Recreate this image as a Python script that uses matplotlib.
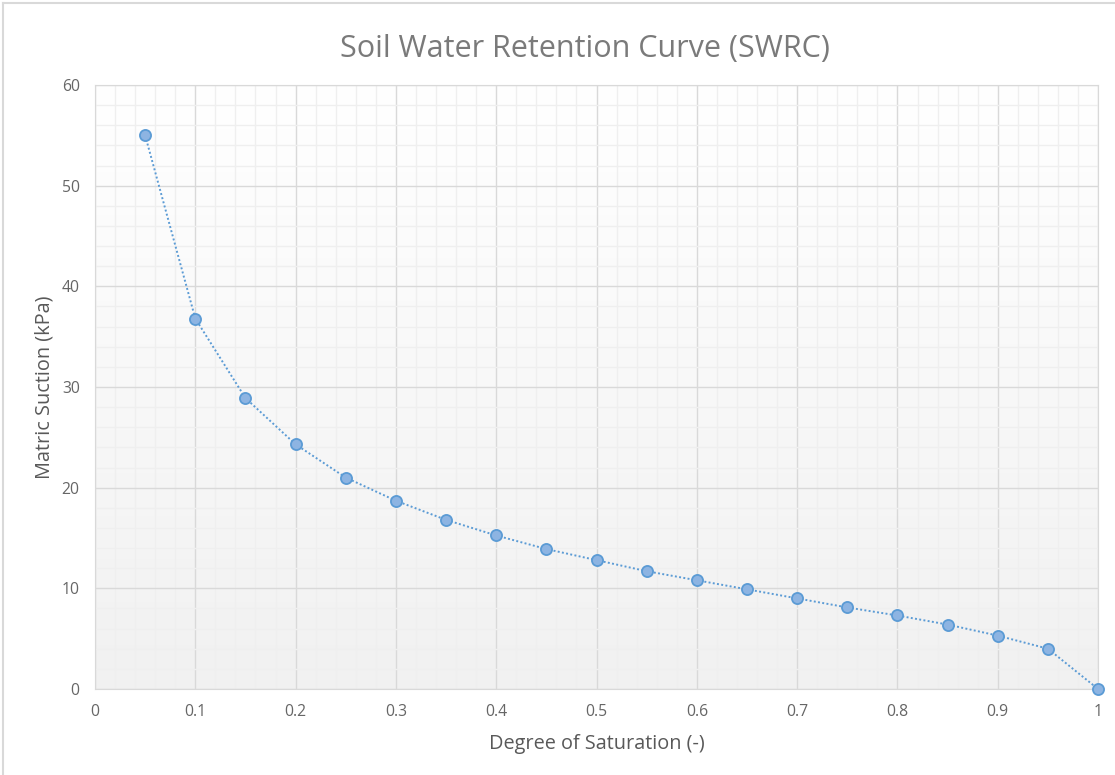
import matplotlib.pyplot as plt
from matplotlib.lines import Line2D
from matplotlib.ticker import MultipleLocator
import numpy as np

# degree of saturation vs matric suction (kPa)
saturation = [0.05, 0.10, 0.15, 0.20, 0.25, 0.30, 0.35, 0.40, 0.45, 0.50,
              0.55, 0.60, 0.65, 0.70, 0.75, 0.80, 0.85, 0.90, 0.95, 1.00]
suction = [55.0, 36.8, 28.9, 24.3, 21.0, 18.7, 16.8, 15.25, 13.9, 12.8,
           11.7, 10.8, 9.9, 9.0, 8.1, 7.3, 6.4, 5.3, 4.0, 0.0]

title = "Soil Water Retention Curve (SWRC)"
xlabel = "Degree of Saturation (-)"
ylabel = "Matric Suction (kPa)"
x_ticks = [0, 0.1, 0.2, 0.3, 0.4, 0.5, 0.6, 0.7, 0.8, 0.9, 1]
x_ticklabels = ["0", "0.1", "0.2", "0.3", "0.4", "0.5", "0.6", "0.7", "0.8", "0.9", "1"]
y_ticks = [0, 10, 20, 30, 40, 50, 60]

plt.rcParams['font.family'] = ['Open Sans', 'DejaVu Sans']
txt = '#595959'

fig = plt.figure(figsize=(11.15, 7.75), dpi=100)
ax = fig.add_axes([0.0852, 0.111, 0.8996, 0.7793])

# soft vertical gradient like the Excel plot area
grad = np.linspace(1.0, 0.0, 256).reshape(-1, 1)
ax.imshow(grad, extent=[0, 1, 0, 1], transform=ax.transAxes, aspect='auto',
          cmap=plt.matplotlib.colors.LinearSegmentedColormap.from_list('g', ['#f1f1f1', '#ffffff']),
          zorder=0, interpolation='bicubic')

ax.set_xlim(0, 1)
ax.set_ylim(0, 60)
ax.set_xticks(x_ticks)
ax.set_xticklabels(x_ticklabels)
ax.set_yticks(y_ticks)
ax.xaxis.set_minor_locator(MultipleLocator(0.02))
ax.yaxis.set_minor_locator(MultipleLocator(2))
ax.grid(which='major', color='#d9d9d9', linewidth=1.0, zorder=1)
ax.grid(which='minor', color='#efefef', linewidth=1.0, zorder=1)
ax.set_axisbelow(True)
ax.tick_params(which='both', length=0, colors='#666666', labelsize=11.3)
ax.tick_params(axis='x', pad=11)
ax.tick_params(axis='y', pad=11)
for s in ax.spines.values():
    s.set_color('#d9d9d9')

ax.plot(saturation, suction, linestyle=(0, (1, 1.2)), color='#5b9bd5', linewidth=1.4,
        marker='o', markersize=8, markerfacecolor='#8db4e2', markeredgecolor='#5b9bd5',
        markeredgewidth=1.3, zorder=3, clip_on=False)

fig.text(0.525, 0.937, title, ha='center', va='center', color='#7a7a7a', fontsize=22)
ax.set_xlabel(xlabel, color=txt, fontsize=14.3, labelpad=10)
ax.set_ylabel(ylabel, color=txt, fontsize=14.3, labelpad=5)

# chart border (only top/left visible in the crop)
fig.add_artist(Line2D([0.003, 1], [0.996, 0.996], transform=fig.transFigure, color='#d9d9d9', lw=1.5))
fig.add_artist(Line2D([0.003, 0.003], [0, 0.996], transform=fig.transFigure, color='#d9d9d9', lw=1.5))

fig.savefig('out.png', dpi=100)
